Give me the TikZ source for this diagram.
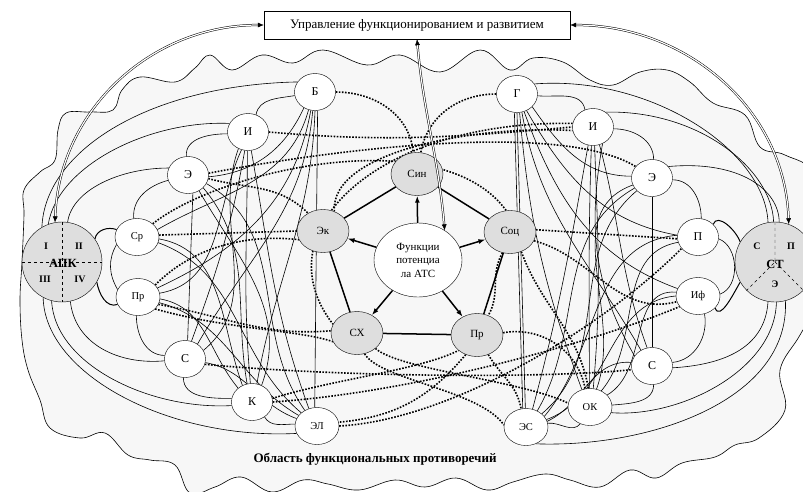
\documentclass[tikz,border=0pt]{standalone}
\usepackage{fontspec}
\setmainfont{Liberation Serif}
\usetikzlibrary{shapes.geometric,arrows.meta}
\pgfdeclarelayer{blobl}
\pgfdeclarelayer{edges}
\pgfsetlayers{blobl,edges,main}
\definecolor{nodegray}{gray}{0.87}
\definecolor{blobfill}{gray}{0.97}
\tikzset{
  lnode/.style={ellipse, draw, fill=white, minimum width=41pt, minimum height=37pt, inner sep=0pt, font=\fontsize{12}{12}\selectfont},
  snode/.style={lnode, font=\fontsize{10.5}{10.5}\selectfont, minimum width=44pt},
  cnode/.style={ellipse, draw, fill=nodegray, minimum width=52pt, minimum height=43pt, inner sep=0pt, font=\fontsize{11}{11}\selectfont},
  bignode/.style={circle, draw, fill=nodegray, minimum size=80pt, inner sep=0pt},
  conn/.style={line width=0.6pt},
  loopc/.style={line width=1pt},
  dots/.style={line width=1.6pt, dash pattern=on 1.6pt off 1.5pt},
  thickc/.style={line width=1.5pt},
  farrow/.style={line width=1.5pt, -{Latex[length=7pt,width=5pt]}},
  dbl/.style={double, double distance=1.2pt, line width=0.5pt, {Latex[length=6pt,width=5pt]}-{Latex[length=6pt,width=5pt]}},
  rn/.style={font=\fontsize{10}{10}\selectfont\bfseries, inner sep=0pt},
}
\begin{document}
\begin{tikzpicture}[x=1pt,y=-1pt]
\useasboundingbox (0,0) rectangle (803,491);
% background blob
\begin{pgfonlayer}{blobl}
\draw[fill=blobfill, line width=0.6pt] plot[smooth cycle, tension=0.65] coordinates {
(20,300) (22,262) (24,215) (24,190) (40,172) (55,160) (58,130) (66,113) (90,112) (113,110) (122,90) (140,77) (175,82) (195,68) (210,55) (232,70) (262,55) (293,63) (323,50) (367,65) (400,55) (440,72) (480,50) (510,70) (533,58) (563,62) (590,80) (613,85) (640,72) (667,70) (690,82) (713,103) (745,115) (760,147) (785,155) (815,175) (825,235) (818,300) (800,335) (780,370) (785,410) (759,438) (735,445) (715,457) (682,463) (656,478) (630,470) (600,487) (570,480) (545,474) (513,482) (487,490) (456,478) (425,487) (395,480) (359,490) (328,484) (303,480) (272,492) (241,477) (215,487) (190,493) (175,465) (150,460) (128,455) (105,433) (80,438) (50,428) (40,400) (28,370) (22,340)};
\end{pgfonlayer}
% nodes
\node[draw, fill=white, minimum width=306pt, minimum height=28pt, font=\fontsize{13}{13}\selectfont] (box) at (417,25) {Управление функционированием и развитием};
\node[bignode] (apk) at (62,262) {};
\node[bignode] (st) at (775,262) {};
\draw[dashed] (apk.north) -- (apk.south);
\draw[dashed] (apk.west) -- (apk.east);
\draw[dashed] (st.north) -- (st.center) -- (st.-135);
\draw[dashed] (st.center) -- (st.-45);
\node[rn] (r1) at (46,246) {I};
\node[rn] (r2) at (79,246) {II};
\node[rn] (r3) at (45,279) {III};
\node[rn] (r4) at (80,279) {IV};
\node[font=\fontsize{12.5}{12.5}\selectfont\bfseries, inner sep=0pt] (apkl) at (63,263) {АПК};
\node[rn] (s1) at (757,246) {С};
\node[rn] (s2) at (791,246) {П};
\node[rn] (s3) at (775,284) {Э};
\node[font=\fontsize{12.5}{12.5}\selectfont\bfseries, inner sep=0pt] (stl) at (775,264) {СТ};
% left nodes
\node[lnode] (B) at (315,92) {Б};
\node[lnode] (I) at (248,132) {И};
\node[lnode] (E) at (188,175) {Э};
\node[snode] (Sr) at (137,237) {Ср};
\node[snode] (Pr) at (138,297) {Пр};
\node[lnode] (S) at (185,359) {С};
\node[lnode] (K) at (252,402) {К};
\node[snode] (EL) at (317,426) {ЭЛ};
% right nodes
\node[lnode] (G) at (517,94) {Г};
\node[lnode] (I2) at (593,127) {И};
\node[lnode] (E2) at (652,178) {Э};
\node[lnode] (P) at (698,237) {П};
\node[snode] (If) at (698,296) {Иф};
\node[lnode] (S2) at (652,366) {С};
\node[snode] (OK) at (590,407) {ОК};
\node[snode] (ES) at (526,427) {ЭС};
% center
\node[cnode] (Sin) at (417,174) {Син};
\node[cnode] (Ek) at (323,231) {Эк};
\node[cnode] (Soc) at (510,232) {Соц};
\node[cnode] (SX) at (357,333) {СХ};
\node[cnode] (Prc) at (477,335) {Пр};
\node[ellipse, draw, fill=white, minimum width=88pt, minimum height=74pt, inner sep=0pt, align=center, font=\fontsize{11}{13.5}\selectfont] (F) at (418,260) {Функции\\потенциа\\ла АТС};
% bottom label
\node[font=\fontsize{13}{13}\selectfont\bfseries] (area) at (375,459) {Область функциональных противоречий};
% central pentagon
\draw[thickc] (Sin) -- (Ek);
\draw[thickc] (Sin) -- (Soc);
\draw[thickc] (Ek) -- (SX);
\draw[thickc] (SX) -- (Prc);
\draw[thickc] (Prc) -- (Soc);
\draw[farrow] (F) -- (Sin);
\draw[farrow] (F) -- (Ek);
\draw[farrow] (F) -- (Soc);
\draw[farrow] (F) -- (SX);
\draw[farrow] (F) -- (Prc);
% double arrows
\draw[dbl] (box.west) to[out=180,in=88] (apk.100);
\draw[dbl] (box.east) to[out=0,in=92] (st.70);
\draw[dbl] (box.south) to[out=-85,in=95] (F.48);
\begin{pgfonlayer}{edges}
% ---- left solid
\draw[conn] (apk.120) .. controls (45,150) and (150,85) .. (B.150);
\draw[conn] (apk.110) .. controls (58,165) and (150,120) .. (I.155);
\draw[conn] (apk.82) .. controls (72,190) and (120,168) .. (E.160);
\draw[loopc] (apk.35) to[out=80,in=160] (Sr.160);
\draw[loopc] (apk.-30) to[out=-80,in=-160] (Pr.-160);
\draw[conn] (apk.-78) .. controls (75,345) and (120,365) .. (S.185);
\draw[conn] (apk.-105) .. controls (55,365) and (150,410) .. (K.190);
\draw[conn] (apk.-118) .. controls (45,375) and (170,440) .. (EL.200);
\draw[conn] (B.190) to[out=190,in=80] (I.65);
\draw[conn] (I.185) to[out=180,in=95] (E.95);
\draw[conn] (E.195) to[out=195,in=95] (Sr.100);
\draw[conn] (Sr.200) to[out=240,in=120] (Pr.160);
\draw[conn] (Pr.-95) to[out=-90,in=180] (S.170);
\draw[conn] (S.-95) to[out=-90,in=180] (K.170);
\draw[conn] (K.-50) to[out=-60,in=180] (EL.175);
\draw[conn] (E.-5) to[out=5,in=-115] (B.-125);
\draw[conn] (B.-110) to[out=-105,in=30] (Sr.20);
\draw[conn] (B.-103) to[out=-100,in=25] (Pr.25);
\draw[conn] (B.-97) to[out=-95,in=60] (S.50);
\draw[conn] (B.-90) to[out=-92,in=80] (K.75);
\draw[conn] (B.-82) -- (EL.97);
\draw[conn] (I.-100) to[out=-100,in=70] (S.70);
\draw[conn] (I.-92) to[out=-90,in=95] (K.95);
\draw[conn] (I.-80) to[out=-80,in=110] (EL.115);
\draw[conn] (I.-110) to[out=-115,in=10] (Pr.10);
\draw[conn] (E.-75) -- (S.82);
\draw[conn] (E.-40) to[out=-50,in=100] (K.105);
\draw[conn] (E.-25) to[out=-30,in=125] (EL.128);
\draw[conn] (Sr.-5) to[out=-10,in=110] (K.120);
\draw[conn] (Sr.-15) to[out=-20,in=140] (EL.140);
\draw[conn] (Pr.-5) to[out=-10,in=130] (K.135);
\draw[conn] (Pr.-15) to[out=-15,in=150] (EL.150);
\draw[conn] (S.25) to[out=40,in=-110] (I.-120);
\draw[conn] (S.-10) to[out=-10,in=160] (EL.160);
\draw[conn] (K.60) to[out=70,in=-60] (E.-55);
% ---- right solid
\draw[conn] (G.30) .. controls (650,75) and (765,150) .. (st.100);
\draw[conn] (I2.50) .. controls (700,110) and (772,170) .. (st.92);
\draw[conn] (E2.35) .. controls (740,160) and (779,190) .. (st.84);
\draw[loopc] (P.40) to[out=70,in=110] (st.150);
\draw[loopc] (If.-35) to[out=-70,in=-120] (st.-150);
\draw[conn] (st.-100) .. controls (765,350) and (720,365) .. (S2.-5);
\draw[conn] (st.-88) .. controls (775,370) and (680,418) .. (OK.-15);
\draw[conn] (st.-75) .. controls (790,400) and (650,448) .. (ES.-60);
\draw[conn] (G.-5) to[out=-5,in=100] (I2.115);
\draw[conn] (I2.-5) to[out=0,in=90] (E2.85);
\draw[conn] (E2.-5) to[out=0,in=90] (P.80);
\draw[conn] (P.-5) to[out=-20,in=20] (If.5);
\draw[conn] (If.-70) to[out=-80,in=5] (S2.10);
\draw[conn] (S2.-85) to[out=-90,in=5] (OK.5);
\draw[conn] (OK.-120) to[out=-130,in=5] (ES.10);
\draw[conn] (G.-40) to[out=-55,in=180] (E2.175);
\draw[conn] (G.-98) -- (ES.100);
\draw[conn] (G.-90) -- (ES.92);
\draw[conn] (G.-82) to[out=-85,in=110] (OK.115);
\draw[conn] (G.-75) to[out=-80,in=120] (S2.125);
\draw[conn] (G.-68) to[out=-70,in=160] (If.160);
\draw[conn] (G.-60) to[out=-60,in=170] (P.175);
\draw[conn] (I2.-105) to[out=-100,in=75] (ES.70);
\draw[conn] (I2.-95) to[out=-92,in=90] (OK.92);
\draw[conn] (I2.-85) to[out=-88,in=85] (OK.80);
\draw[conn] (I2.-70) to[out=-75,in=110] (S2.105);
\draw[conn] (E2.-90) -- (S2.90);
\draw[conn] (E2.-150) to[out=-150,in=60] (ES.55);
\draw[conn] (E2.-160) to[out=-160,in=70] (OK.70);
\draw[conn] (E2.-140) to[out=-140,in=40] (ES.40);
\draw[conn] (P.175) to[out=185,in=50] (ES.30);
\draw[conn] (P.-165) to[out=-170,in=50] (OK.55);
\draw[conn] (If.170) to[out=175,in=30] (OK.35);
\draw[conn] (If.180) to[out=185,in=20] (ES.20);
\draw[conn] (S2.170) to[out=175,in=25] (ES.15);
\draw[conn] (S2.150) to[out=120,in=-100] (I2.-60);
% ---- dotted
\draw[dots] (B.east) to[out=0,in=95] (Sin.100);
\draw[dots] (G.west) to[out=180,in=80] (Sin.80);
\draw[dots] (I.east) to[out=-5,in=185] (I2.west);
\draw[dots] (E.5) .. controls (330,150) and (560,120) .. (E2.145);
\draw[dots] (E.-10) to[out=-15,in=135] (Ek.130);
\draw[dots] (Sr.5) -- (Ek.180);
\draw[dots] (Sr.40) .. controls (220,170) and (440,120) .. (Soc.100);
\draw[dots] (Pr.35) .. controls (200,240) and (260,235) .. (Ek.200);
\draw[dots] (Pr.-20) to[out=-10,in=185] (SX.175);
\draw[dots] (Pr.-35) .. controls (230,330) and (300,330) .. (SX.200);
\draw[dots] (S.-15) .. controls (350,378) and (560,378) .. (S2.190);
\draw[dots] (K.east) .. controls (420,392) and (600,340) .. (If.-150);
\draw[dots] (EL.east) .. controls (450,420) and (600,330) .. (P.-145);
\draw[dots] (Ek.60) .. controls (330,150) and (480,125) .. (I2.190);
\draw[dots] (I2.170) .. controls (380,120) and (260,230) .. (SX.160);
\draw[dots] (Soc.5) -- (P.185);
\draw[dots] (Soc.-20) to[out=-15,in=195] (If.195);
\draw[dots] (Soc.-60) to[out=-70,in=100] (OK.95);
\draw[dots] (Soc.-110) to[out=-120,in=60] (Prc.60);
\draw[dots] (Prc.5) to[out=10,in=100] (OK.105);
\draw[dots] (Prc.-60) to[out=-60,in=100] (ES.105);
\draw[dots] (Prc.-120) to[out=-130,in=5] (EL.10);
\draw[dots] (SX.-70) .. controls (380,380) and (480,390) .. (ES.175);
\draw[dots] (SX.-40) .. controls (400,370) and (520,380) .. (OK.170);
\draw[dots] (K.10) .. controls (330,380) and (420,370) .. (Prc.-140);
\end{pgfonlayer}
\end{tikzpicture}
\end{document}
